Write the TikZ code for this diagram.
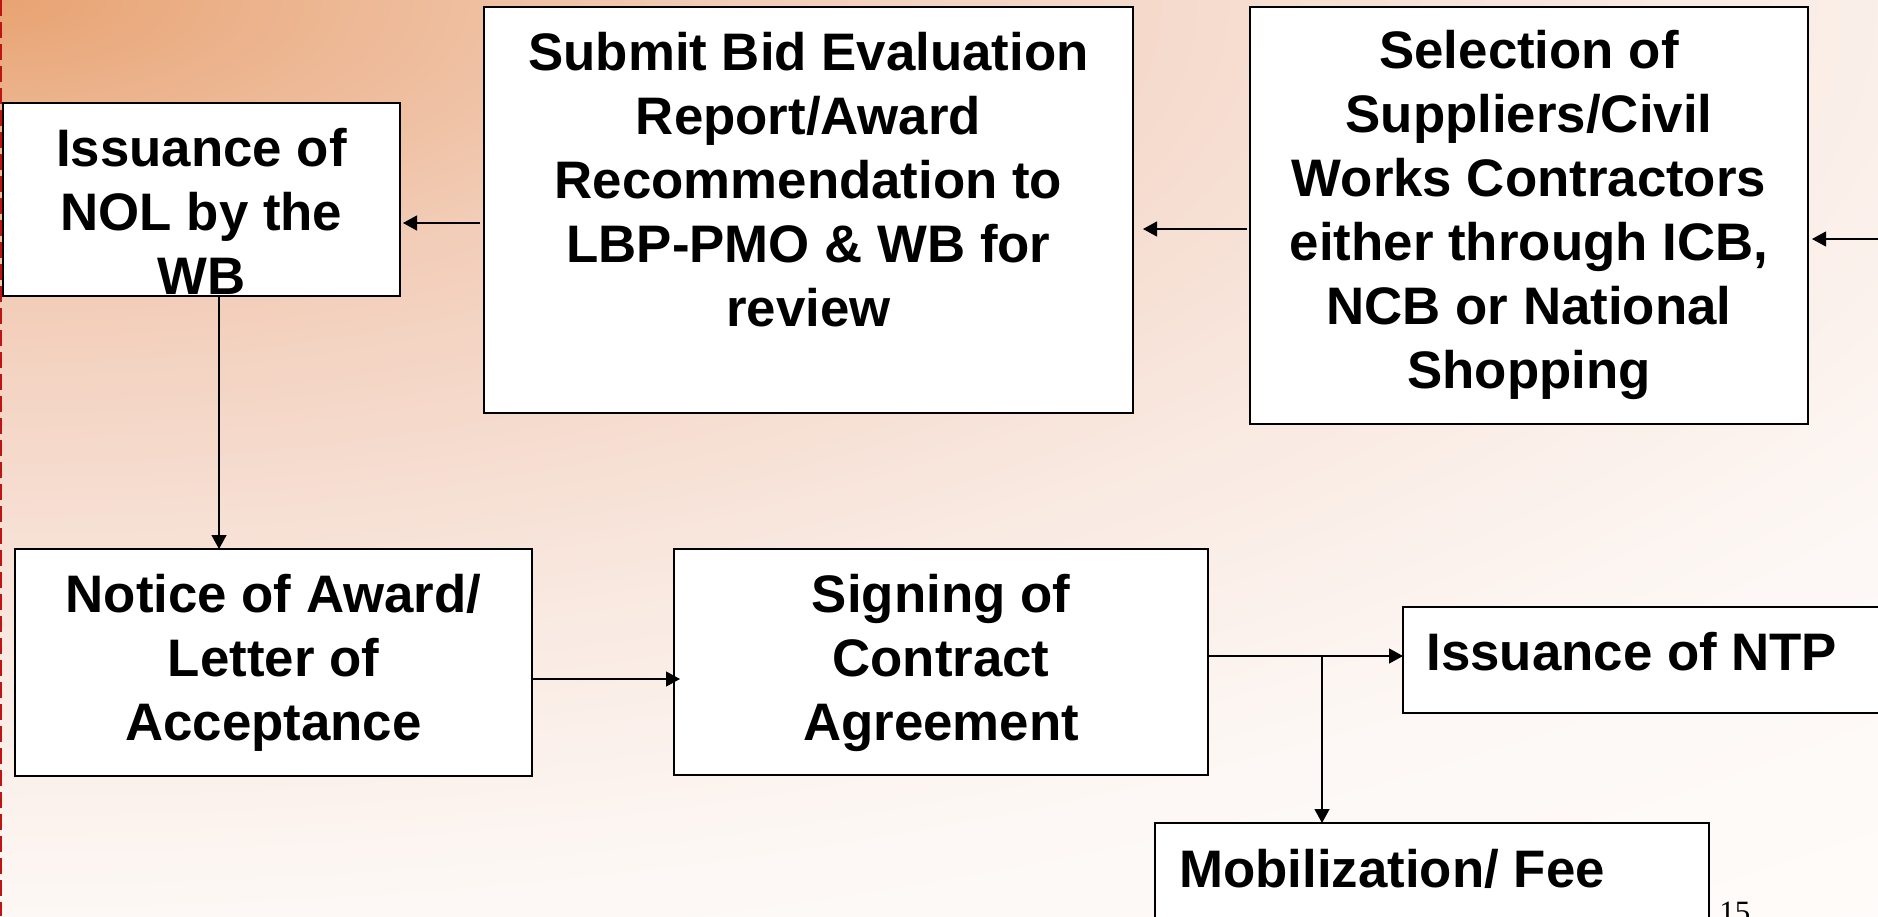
\documentclass[tikz,border=0pt]{standalone}
\usepackage{fontspec}
\setmainfont{Liberation Sans}
\newfontfamily\pgnumfont{Liberation Serif}
\usetikzlibrary{arrows.meta}
\definecolor{bgA}{RGB}{232,163,114}
\definecolor{bgB}{RGB}{236,180,142}
\definecolor{bgC}{RGB}{242,205,184}
\definecolor{bgD}{RGB}{245,218,204}
\definecolor{bgE}{RGB}{249,234,226}
\definecolor{bgF}{RGB}{253,248,245}
\definecolor{bgG}{RGB}{255,253,252}
\definecolor{dashred}{RGB}{190,20,20}
\pgfdeclareradialshading{bgsh}{\pgfpoint{0bp}{0bp}}{color(0bp)=(bgA); color(3bp)=(bgB); color(8bp)=(bgC); color(12.5bp)=(bgD); color(18bp)=(bgE); color(25bp)=(bgF); color(36bp)=(bgG)}
\newcommand\firstline{\rule{0pt}{24pt}}
\tikzset{
  boxst/.style={draw=black, fill=white, line width=1pt, inner sep=0pt, outer sep=0pt, anchor=north west},
  txtst/.style={font=\fontsize{26.4}{32}\selectfont\bfseries, align=center, inner sep=0pt, anchor=north},
  onetxt/.style={font=\fontsize{26.4}{32}\selectfont\bfseries, inner sep=0pt, anchor=base west},
  arr/.style={-{Triangle[length=7pt,width=7.5pt]}, line width=0.6pt, draw=black},
  reddash/.style={draw=dashred, line width=1pt, dash pattern=on 8pt off 3pt}
}
\begin{document}
\begin{tikzpicture}[x=0.5pt,y=-0.5pt]
\useasboundingbox (0,0) rectangle (1878,916);
\clip (0,0) rectangle (1878,916);
\shade[shading=bgsh] (-2300,-916) rectangle (2300,916);
\draw[reddash] (1,0) -- (1,916);
% boxes
\node[boxst, minimum width=198.5pt, minimum height=96.5pt] (nol) at (3,103) {};
\node[boxst, minimum width=324.5pt, minimum height=203pt] (sub) at (484,7) {};
\node[boxst, minimum width=279pt, minimum height=208.5pt] (sel) at (1250,7) {};
\node[boxst, minimum width=258.5pt, minimum height=113.5pt] (notice) at (15,549) {};
\node[boxst, minimum width=267pt, minimum height=113pt] (sig) at (674,549) {};
\node[boxst, minimum width=273.5pt, minimum height=53pt] (ntp) at (1403,607) {};
\node[boxst, minimum width=277pt, minimum height=88.5pt] (mob) at (1155,823) {};
% texts
\node[txtst] (nolT) at (201.5,118) {\firstline Issuance of\\NOL by the\\WB};
\node[txtst] (subT) at (808.5,22) {\firstline Submit Bid Evaluation\\Report/Award\\Recommendation to\\LBP-PMO \& WB for\\review};
\node[txtst] (selT) at (1529,20) {\firstline Selection of\\Suppliers/Civil\\Works Contractors\\either through ICB,\\NCB or National\\Shopping};
\node[txtst] (notT) at (273.5,564) {\firstline Notice of Award/\\Letter of\\Acceptance};
\node[txtst] (sigT) at (941,564) {\firstline Signing of\\Contract\\Agreement};
\node[onetxt] (ntpT) at (1426,670) {Issuance of NTP};
\node[onetxt] (mobT) at (1179,887) {Mobilization/ Fee};
\node[anchor=base west, inner sep=0pt, font=\fontsize{15.5}{18}\selectfont\pgnumfont] (pg) at (1719,922) {15};
% connectors
\coordinate (inR) at (1890,239);
\draw[arr, shorten >=2pt] (inR) -- (inR -| sel.east);
\draw[arr, shorten <=1.5pt, shorten >=5pt] (sel.west |- 0,229) -- (sub.east |- 0,229);
\draw[arr, shorten <=2pt, shorten >=1.5pt] (sub.west |- 0,223) -- (nol.east |- 0,223);
\draw[arr] (nol.south -| 219,0) -- (notice.north -| 219,0);
\draw[arr, shorten >=-3pt] (notice.east |- 0,679) -- (sig.west |- 0,679);
\draw[arr] (sig.east |- 0,656) -- (ntp.west |- 0,656);
\coordinate (br) at (1322,656);
\draw[arr] (br) -- (br |- mob.north);
\end{tikzpicture}
\end{document}
